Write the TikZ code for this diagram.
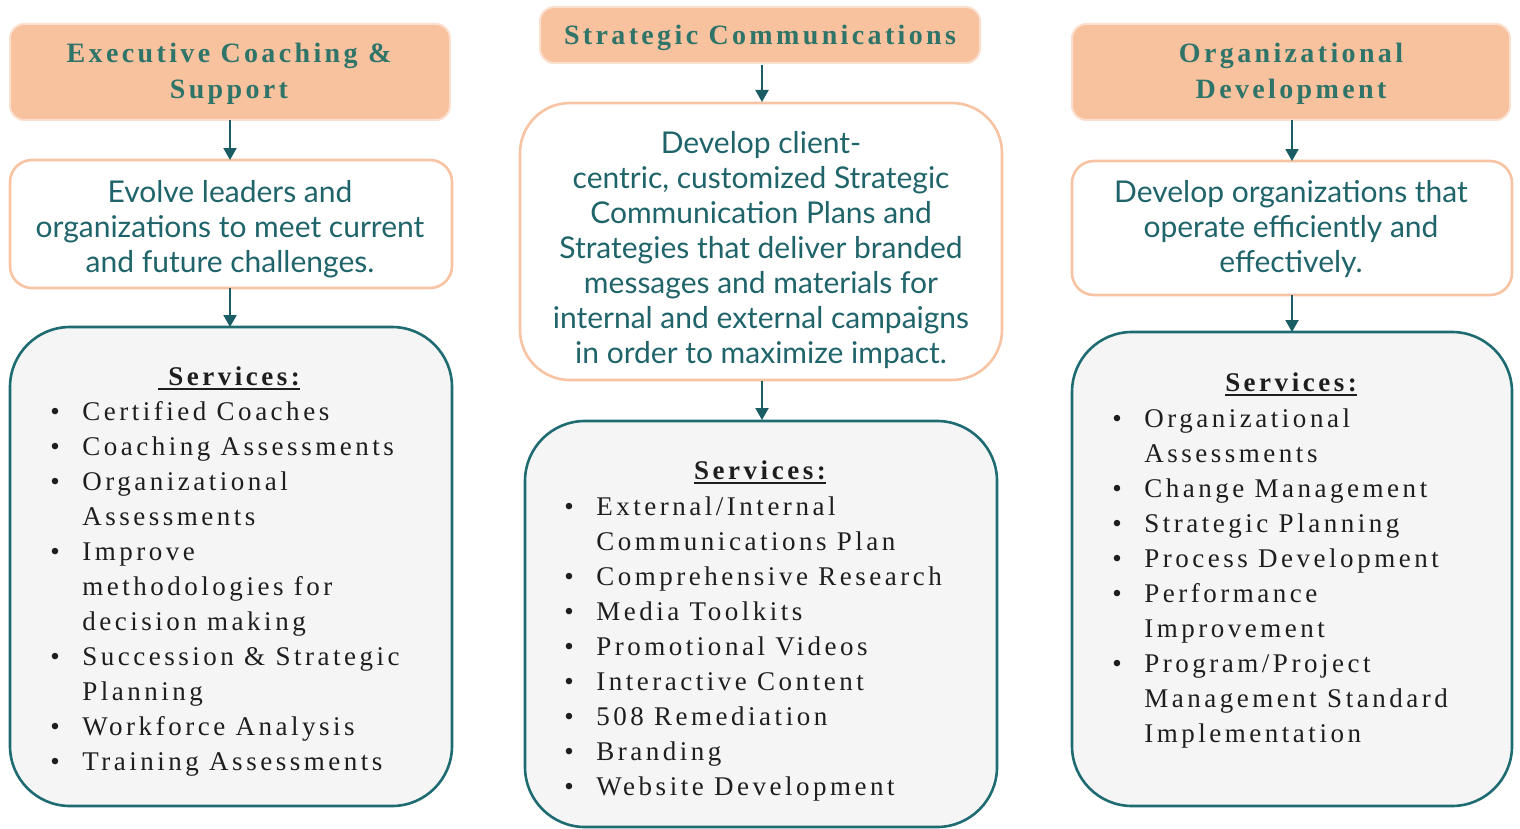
\documentclass[tikz,border=0pt]{standalone}
\usepackage{fontspec}
\usetikzlibrary{arrows.meta}
\newfontfamily\headfont[LetterSpace=12]{Liberation Serif}
\newfontfamily\missfont{Lato}
\newfontfamily\svcfont[LetterSpace=13]{Liberation Serif}
\definecolor{peach}{HTML}{F9C29F}
\definecolor{peachedge}{HTML}{FBE0CF}
\definecolor{missedge}{HTML}{F8C3A2}
\definecolor{headtext}{HTML}{2E7468}
\definecolor{misstext}{HTML}{1F646A}
\definecolor{arrowcol}{HTML}{1B5D65}
\definecolor{svcedge}{HTML}{1F6B72}
\definecolor{svcfill}{HTML}{F5F5F5}
\definecolor{svctext}{HTML}{1E1E1E}
% bullet column and continuation indent for the service lists
\newcommand\bul{\makebox[16pt][l]{\textbullet}}
\newcommand\cont{\hspace*{16pt}}
% heavy underline for the list titles
\newcommand\heavyul[1]{\setbox0\hbox{#1}\rlap{\rule[-2.6pt]{\wd0}{1.1pt}}\box0}
\tikzset{
  headbox/.style={draw=peachedge, line width=1pt, fill=peach, rounded corners=7pt,
    inner sep=0pt, outer sep=0pt},
  headtxt/.style={anchor=base, inner sep=0pt, align=center, text=headtext,
    font=\headfont\bfseries\fontsize{14}{17.5}\selectfont},
  missbox/.style={draw=missedge, line width=1.3pt, fill=white,
    inner sep=0pt, outer sep=0pt},
  misstxt/.style={anchor=base, inner sep=0pt, align=center, text=misstext,
    font=\missfont\fontsize{15}{17.5}\selectfont},
  svcbox/.style={draw=svcedge, line width=1.3pt, fill=svcfill, rounded corners=30pt,
    inner sep=0pt, outer sep=0pt},
  svctitle/.style={anchor=base, inner sep=0pt, text=svctext,
    font=\svcfont\bfseries\fontsize{13.5}{17.5}\selectfont},
  svclist/.style={anchor=base west, inner sep=0pt, align=left, text=svctext,
    font=\svcfont\fontsize{13.5}{17.5}\selectfont},
  arr/.style={draw=arrowcol, line width=1pt, -{Triangle[width=6.5pt,length=6pt]}}
}
\begin{document}
\begin{tikzpicture}[x=0.5pt, y=-0.5pt]
\useasboundingbox (0,0) rectangle (1520,829);

% column 1: executive coaching
\node[headbox, minimum width=220pt, minimum height=48pt] (h1) at (230,72) {};
\node[headtxt] (h1t) at (229,98) {Executive Coaching \&\\Support};
\node[missbox, rounded corners=11pt, minimum width=221pt, minimum height=64pt] (m1) at (231,224) {};
\node[misstxt] (m1t) at (230,272)
  {Evolve leaders and\\organizations to meet current\\and future challenges.};
\node[svcbox, minimum width=221pt, minimum height=239.5pt] (s1) at (231,566.5) {};
\node[svctitle] (s1t) at (229,385) {\heavyul{~Services:}};
\node[svclist] (s1l) at (50,770) {%
\bul Certified Coaches\\
\bul Coaching Assessments\\
\bul Organizational\\
\cont Assessments\\
\bul Improve\\
\cont methodologies for\\
\cont decision making\\
\bul Succession \& Strategic\\
\cont Planning\\
\bul Workforce Analysis\\
\bul Training Assessments};
\draw[arr] (h1.south) -- (h1.south |- m1.north);
\draw[arr] (h1.south |- m1.south) -- (h1.south |- s1.north);

% column 2: strategic communications
\node[headbox, minimum width=220pt, minimum height=28pt] (h2) at (760,35) {};
\node[headtxt] (h2t) at (760,45) {Strategic Communications};
\node[missbox, rounded corners=25pt, minimum width=241pt, minimum height=138.5pt] (m2) at (761,241.5) {};
\node[misstxt] (m2t) at (761,363)
  {Develop client-\\centric, customized Strategic\\Communication Plans and\\Strategies that deliver branded\\messages and materials for\\internal and external campaigns\\in order to maximize impact.};
\node[svcbox, minimum width=236pt, minimum height=203pt] (s2) at (761,624) {};
\node[svctitle] (s2t) at (760,479) {\heavyul{Services:}};
\node[svclist] (s2l) at (564,795) {%
\bul External/Internal\\
\cont Communications Plan\\
\bul Comprehensive Research\\
\bul Media Toolkits\\
\bul Promotional Videos\\
\bul Interactive Content\\
\bul 508 Remediation\\
\bul Branding\\
\bul Website Development};
\draw[arr] (762,65) -- (762,102);
\draw[arr] (762,381) -- (762,420);

% column 3: organizational development
\node[headbox, minimum width=219pt, minimum height=48pt] (h3) at (1291,72) {};
\node[headtxt] (h3t) at (1291,98) {Organizational\\Development};
\node[missbox, rounded corners=11pt, minimum width=220pt, minimum height=67pt] (m3) at (1292,228) {};
\node[misstxt] (m3t) at (1291,272)
  {Develop organizations that\\operate efficiently and\\effectively.};
\node[svcbox, minimum width=220pt, minimum height=237pt] (s3) at (1292,569) {};
\node[svctitle] (s3t) at (1291,391) {\heavyul{Services:}};
\node[svclist] (s3l) at (1112,742) {%
\bul Organizational\\
\cont Assessments\\
\bul Change Management\\
\bul Strategic Planning\\
\bul Process Development\\
\bul Performance\\
\cont Improvement\\
\bul Program/Project\\
\cont Management Standard\\
\cont Implementation};
\draw[arr] (m3.north |- h3.south) -- (m3.north);
\draw[arr] (m3.south) -- (s3.north);
\end{tikzpicture}
\end{document}
